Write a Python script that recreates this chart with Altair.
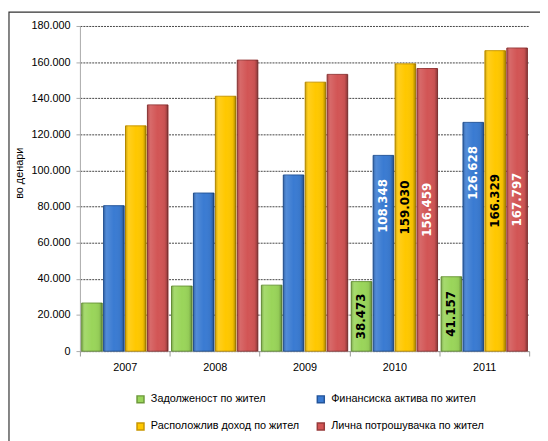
import altair as alt
import pandas as pd

years = ["2007", "2008", "2009", "2010", "2011"]
series = ["Задолженост по жител", "Финансиска актива по жител",
          "Расположлив доход по жител", "Лична потрошувачка по жител"]
zadolzenost = [26600, 36000, 36500, 38473, 41157]
finansiska = [80500, 87500, 97500, 108348, 126628]
raspolozliv = [124700, 141100, 148900, 159030, 166329]
licna = [136300, 161100, 153200, 156459, 167797]
labelled_years = ["2010", "2011"]
y_ticks = [0, 20000, 40000, 60000, 80000, 100000, 120000, 140000, 160000, 180000]

colors = ["#9AD55A", "#3A7BD2", "#FFC800", "#D25555"]
strokes = ["#6E9A3C", "#24559A", "#C89600", "#973A3A"]

rows = []
for s, vals in zip(series, [zadolzenost, finansiska, raspolozliv, licna]):
    for yr, v in zip(years, vals):
        rows.append({"year": yr, "series": s, "value": v})
df = pd.DataFrame(rows)

FONT = "Liberation Sans"

x_axis = alt.Axis(labelAngle=0, tickBand="extent", tickSize=5,
                  labelPadding=6, domainColor="#999999",
                  tickColor="#999999", labelFont=FONT,
                  labelFontSize=11, labelColor="#000000")
x_scale = alt.Scale(paddingInner=0, paddingOuter=0)
xo_scale = alt.Scale(domain=series, paddingInner=0.06, paddingOuter=0.08)
y_scale = alt.Scale(domain=[0, 180000], nice=False)
y_axis = alt.Axis(values=y_ticks, labelOverlap=False, labelBound=False,
                  labelExpr="replace(format(datum.value, ','), ',', '.')",
                  grid=True, gridColor="#444444", gridDash=[2, 1],
                  tickSize=4, labelPadding=6, domainColor="#aaaaaa",
                  tickColor="#aaaaaa", labelFont=FONT, labelFontSize=11,
                  labelColor="#000000", titleFont=FONT,
                  titleFontSize=11, titleFontWeight="normal",
                  titleColor="#000000", titleAngle=270,
                  titleAlign="center", titleBaseline="middle",
                  titleX=-61, titleY=149)


def X():
    return alt.X("year:N", sort=years, title=None, scale=x_scale, axis=x_axis)


def XO():
    return alt.XOffset("series:N", sort=series, scale=xo_scale)


def Y(field):
    return alt.Y(field, title="во денари", scale=y_scale, axis=y_axis)


base = alt.Chart(df)

legend_order = [series[0], series[2], series[1], series[3]]

bars = base.mark_bar(strokeWidth=1).encode(
    x=X(), xOffset=XO(), y=Y("value:Q"),
    color=alt.Color("series:N", scale=alt.Scale(domain=series, range=colors),
                    legend=alt.Legend(title=None, orient="none", legendX=56,
                                      legendY=373, columns=2, columnPadding=14,
                                      rowPadding=13, symbolType="square",
                                      symbolSize=50, labelFont=FONT,
                                      labelFontSize=11, labelOffset=5,
                                      labelColor="#000000", padding=0,
                                      values=legend_order)),
    stroke=alt.Stroke("series:N", scale=alt.Scale(domain=series, range=strokes),
                      legend=None),
)

shade = base.mark_bar(
    fill=alt.LinearGradient(
        gradient="linear", x1=0, x2=1, y1=0, y2=0,
        stops=[alt.GradientStop(offset=0, color="rgba(0,0,0,0.22)"),
               alt.GradientStop(offset=0.15, color="rgba(255,255,255,0.12)"),
               alt.GradientStop(offset=0.5, color="rgba(255,255,255,0)"),
               alt.GradientStop(offset=0.85, color="rgba(0,0,0,0.05)"),
               alt.GradientStop(offset=1, color="rgba(0,0,0,0.35)")])
).encode(x=X(), xOffset=XO(), y=Y("value:Q"))

label_expr = "replace(format(datum.value, ','), ',', '.')"
lab = base.transform_filter(
    alt.FieldOneOfPredicate(field="year", oneOf=labelled_years)
).transform_calculate(half="datum.value / 2", txt=label_expr)

text_black = lab.transform_filter(
    alt.FieldOneOfPredicate(field="series", oneOf=[series[0], series[2]])
).mark_text(angle=270, align="center", baseline="middle", font="DejaVu Sans",
            fontWeight="bold", fontSize=12, color="#000000").encode(
    x=X(), xOffset=XO(), y=Y("half:Q"), text="txt:N")

text_red = lab.transform_filter(
    alt.FieldEqualPredicate(field="series", equal=series[3])
).mark_text(angle=270, align="center", baseline="middle", font="DejaVu Sans",
            fontWeight="bold", fontSize=12, color="#ffffff").encode(
    x=X(), xOffset=XO(), y=Y("half:Q"), text="txt:N")

text_blue = lab.transform_filter(
    alt.FieldEqualPredicate(field="series", equal=series[1])
).mark_text(angle=270, align="right", baseline="middle", dx=-24,
            font="DejaVu Sans", fontWeight="bold", fontSize=12,
            color="#ffffff").encode(
    x=X(), xOffset=XO(), y=Y("value:Q"), text="txt:N")

frame = alt.Chart(pd.DataFrame({"k": [0]})).mark_rect(
    fill="transparent", stroke="#333333", strokeWidth=1.2
).encode(x=alt.value(-72), x2=alt.value(480), y=alt.value(-14), y2=alt.value(440))

chart = alt.layer(frame, bars, shade, text_black, text_red, text_blue).properties(
    width=456, height=330,
    autosize=alt.AutoSizeParams(type="none"),
    padding={"left": 73, "top": 15, "right": 11, "bottom": 88},
    background="#ffffff",
).configure_view(strokeWidth=0)

chart.save("out.html", embed_options={"renderer": "svg", "actions": False})
